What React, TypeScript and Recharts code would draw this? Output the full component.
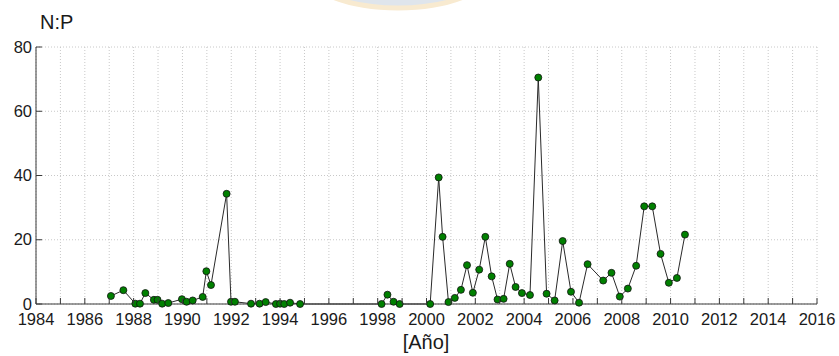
import React from 'react';
import { LineChart, Line, XAxis, YAxis, CartesianGrid } from 'recharts';

const years = [
  1987.07, 1987.58, 1988.07, 1988.26, 1988.48, 1988.83, 1988.98, 1989.17, 1989.42, 1989.98,
  1990.17, 1990.42, 1990.83, 1990.98, 1991.17, 1991.81, 1991.99, 1992.15, 1992.81, 1993.16,
  1993.41, 1993.83, 1994.0, 1994.17, 1994.41, 1994.82, 1998.16, 1998.4, 1998.65, 1998.9,
  2000.15, 2000.5, 2000.66, 2000.9, 2001.16, 2001.41, 2001.66, 2001.9, 2002.16, 2002.41,
  2002.67, 2002.91, 2003.16, 2003.41, 2003.65, 2003.91, 2004.24, 2004.58, 2004.92, 2005.25,
  2005.58, 2005.92, 2006.25, 2006.6, 2007.24, 2007.58, 2007.92, 2008.25, 2008.59, 2008.92,
  2009.25, 2009.59, 2009.93, 2010.26, 2010.59,
];
const npValues = [
  2.5, 4.3, 0.1, 0.1, 3.4, 1.3, 1.3, 0.1, 0.3, 1.5,
  0.7, 1.1, 2.2, 10.2, 5.9, 34.3, 0.7, 0.7, 0.1, 0.1,
  0.6, 0, 0.1, 0, 0.4, 0, 0, 2.9, 0.7, 0,
  0, 39.4, 20.9, 0.6, 1.9, 4.4, 12.1, 3.5, 10.7, 20.9,
  8.6, 1.4, 1.6, 12.5, 5.3, 3.4, 2.8, 70.5, 3.2, 1.1,
  19.6, 3.8, 0.4, 12.4, 7.3, 9.7, 2.3, 4.8, 11.9, 30.4,
  30.4, 15.6, 6.6, 8.1, 21.6,
];
const xTicks = [
  1984, 1985, 1986, 1987, 1988, 1989, 1990, 1991, 1992, 1993, 1994, 1995, 1996, 1997, 1998, 1999,
  2000, 2001, 2002, 2003, 2004, 2005, 2006, 2007, 2008, 2009, 2010, 2011, 2012, 2013, 2014, 2015, 2016,
];
const yTicks = [0, 20, 40, 60, 80];
const title = 'N:P';
const xLabel = '[Año]';

const data = years.map((y, i) => ({ year: y, np: npValues[i] }));

const FONT = '"Liberation Sans", Arial, sans-serif';
const TXT = '#1a1a1a';
const AX = '#3a3a3a';

const BottomTick = (props: any) => {
  const { x, y, payload } = props;
  const v = payload.value as number;
  return (
    <g>
      <line x1={x} y1={y} x2={x} y2={y - 6} stroke={AX} strokeWidth={1} />
      {v % 2 === 0 ? (
        <text x={x} y={y + 21} textAnchor="middle" fontSize={16.5} fontFamily={FONT} fill={TXT}>
          {v}
        </text>
      ) : null}
    </g>
  );
};

const TopTick = (props: any) => {
  const { x, y } = props;
  return <line x1={x} y1={y} x2={x} y2={y + 6} stroke={AX} strokeWidth={1} />;
};

const LeftTick = (props: any) => {
  const { x, y, payload } = props;
  return (
    <g>
      <line x1={x} y1={y} x2={x + 6} y2={y} stroke={AX} strokeWidth={1} />
      <text x={x - 4} y={y + 5.5} textAnchor="end" fontSize={16.5} fontFamily={FONT} fill={TXT}>
        {payload.value}
      </text>
    </g>
  );
};

const RightTick = (props: any) => {
  const { x, y } = props;
  return <line x1={x} y1={y} x2={x - 6} y2={y} stroke={AX} strokeWidth={1} />;
};

const Dot = (props: any) => {
  const { cx, cy } = props;
  if (cx == null || cy == null) return null;
  return <circle cx={cx} cy={cy} r={3.5} fill="#008000" stroke="#111" strokeWidth={0.8} />;
};

export default function App() {
  return (
    <div style={{ position: 'absolute', left: 0, top: 0, width: 839, height: 356, background: '#fff' }}>
      <svg width={839} height={356} style={{ position: 'absolute', left: 0, top: 0 }}>
        <ellipse cx={398} cy={-27} rx={90} ry={35} fill="#dfe5ec" stroke="#f8ead0" strokeWidth={5} />
      </svg>
      <div style={{ position: 'absolute', left: 0, top: 0 }}>
        <LineChart
          width={839}
          height={356}
          data={data}
          margin={{ top: 47, right: 22, bottom: 0, left: 0 }}
        >
          <CartesianGrid stroke="#c8c8c8" strokeDasharray="1 2" />
          <XAxis
            dataKey="year"
            type="number"
            domain={[1984, 2016]}
            ticks={xTicks}
            interval={0}
            height={52}
            tickSize={0}
            tickMargin={0}
            tickLine={false}
            axisLine={{ stroke: AX, strokeWidth: 1 }}
            tick={<BottomTick />}
          />
          <XAxis
            xAxisId="top"
            orientation="top"
            type="number"
            domain={[1984, 2016]}
            ticks={xTicks}
            interval={0}
            height={0}
            tickSize={0}
            tickMargin={0}
            tickLine={false}
            axisLine={{ stroke: AX, strokeWidth: 1 }}
            tick={<TopTick />}
          />
          <YAxis
            type="number"
            domain={[0, 80]}
            ticks={yTicks}
            interval={0}
            width={36}
            tickSize={0}
            tickMargin={0}
            tickLine={false}
            axisLine={{ stroke: AX, strokeWidth: 1 }}
            tick={<LeftTick />}
          />
          <YAxis
            yAxisId="right"
            orientation="right"
            type="number"
            domain={[0, 80]}
            ticks={yTicks}
            interval={0}
            width={0}
            tickSize={0}
            tickMargin={0}
            tickLine={false}
            axisLine={{ stroke: AX, strokeWidth: 1 }}
            tick={<RightTick />}
          />
          <Line
            dataKey="np"
            type="linear"
            stroke="#2a2a2a"
            strokeWidth={1}
            dot={<Dot />}
            activeDot={false}
            isAnimationActive={false}
          />
        </LineChart>
      </div>
      <svg width={839} height={356} style={{ position: 'absolute', left: 0, top: 0, pointerEvents: 'none' }}>
        <text x={40} y={29} fontSize={20} fontFamily={FONT} fill={TXT}>
          {title}
        </text>
        <text x={426} y={349} textAnchor="middle" fontSize={20} fontFamily={FONT} fill={TXT}>
          {xLabel}
        </text>
      </svg>
    </div>
  );
}
